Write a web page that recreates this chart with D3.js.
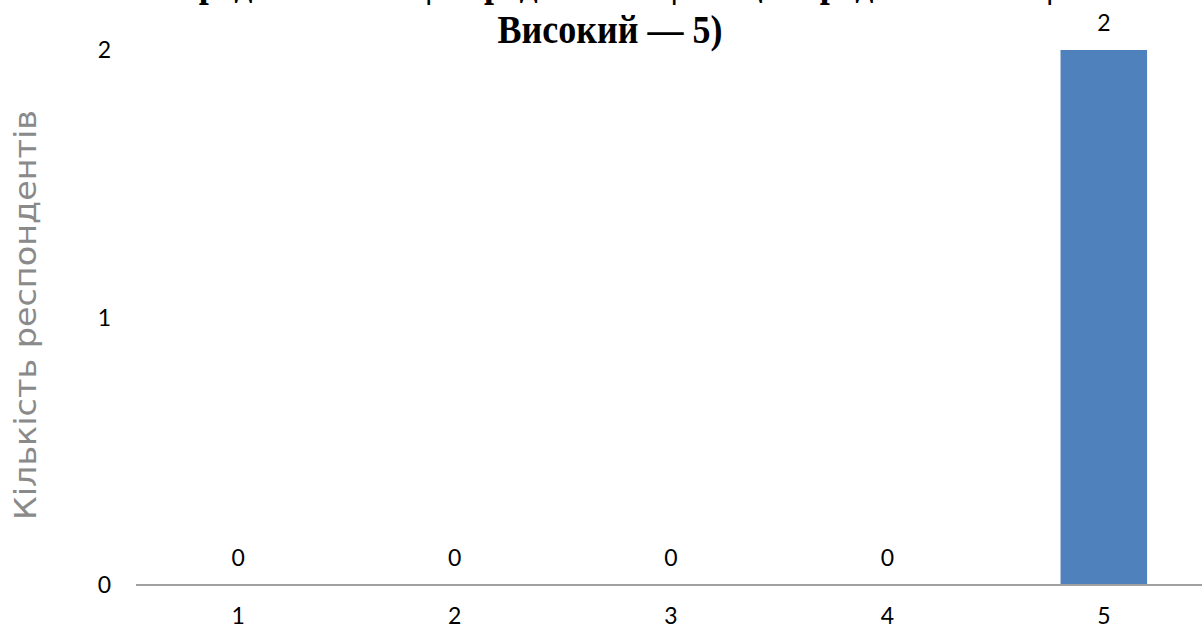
<!DOCTYPE html>
<html>
<head>
<meta charset="utf-8">
<script src="https://cdn.jsdelivr.net/npm/d3@7"></script>
<style>
  html, body { margin: 0; padding: 0; background: #fff; }
  svg { display: block; }
</style>
</head>
<body>
<svg id="chart" width="1202" height="628"></svg>
<script>
const categories = ["1", "2", "3", "4", "5"];
const values = [0, 0, 0, 0, 2];
const yTicks = [0, 1, 2];
const titleLines = [
  "середнього — 2 | Середній — 3 | Вище середнього — 4 |",
  "Високий — 5)"
];
const yTitle = "Кількість респондентів";

const svg = d3.select("#chart");
const W = 1202, H = 628;

const x = d3.scaleBand()
  .domain(categories)
  .range([130, 1212])
  .paddingInner(0.6)
  .paddingOuter(0.3);

const y = d3.scaleLinear()
  .domain([0, 2])
  .range([585, 50]);

// Bars
svg.append("g").selectAll("rect")
  .data(values)
  .join("rect")
  .attr("x", (d, i) => x(categories[i]))
  .attr("width", x.bandwidth())
  .attr("y", d => y(d))
  .attr("height", d => y(0) - y(d))
  .attr("fill", "#4f81bd");

// X axis line
svg.append("line")
  .attr("x1", 136).attr("x2", W)
  .attr("y1", y(0)).attr("y2", y(0))
  .attr("stroke", "#a0a0a0")
  .attr("stroke-width", 2);

const numFont = "Lato, 'Open Sans', sans-serif";
const numSize = 23;

// X tick labels
svg.append("g").selectAll("text")
  .data(categories)
  .join("text")
  .attr("x", d => x(d) + x.bandwidth() / 2)
  .attr("y", 624)
  .attr("text-anchor", "middle")
  .attr("font-family", numFont)
  .attr("font-size", numSize)
  .attr("fill", "#000")
  .text(d => d);

// Y tick labels
svg.append("g").selectAll("text")
  .data(yTicks)
  .join("text")
  .attr("x", 111)
  .attr("y", d => y(d))
  .attr("dy", "0.36em")
  .attr("text-anchor", "end")
  .attr("font-family", numFont)
  .attr("font-size", numSize)
  .attr("fill", "#000")
  .text(d => d);

// Data labels
svg.append("g").selectAll("text")
  .data(values)
  .join("text")
  .attr("x", (d, i) => x(categories[i]) + x.bandwidth() / 2)
  .attr("y", d => y(d) - 19)
  .attr("text-anchor", "middle")
  .attr("font-family", numFont)
  .attr("font-size", numSize)
  .attr("fill", "#000")
  .text(d => d);

// Y axis title
svg.append("text")
  .attr("transform", "translate(36,315) rotate(-90)")
  .attr("text-anchor", "middle")
  .attr("font-family", "'DejaVu Sans', sans-serif")
  .attr("font-size", 30)
  .attr("fill", "#8a8a8a")
  .attr("textLength", 410)
  .attr("lengthAdjust", "spacingAndGlyphs")
  .text(yTitle);

// Title (first line clipped at top, as in the reference)
const t = svg.append("text")
  .attr("transform", "translate(610,0) scale(0.9,1)")
  .attr("text-anchor", "middle")
  .attr("font-family", "'Liberation Serif', 'Times New Roman', serif")
  .attr("font-weight", "bold")
  .attr("font-size", 40)
  .attr("fill", "#000");
t.selectAll("tspan")
  .data(titleLines)
  .join("tspan")
  .attr("x", 0)
  .attr("y", (d, i) => i === 0 ? -4 : 43)
  .text(d => d);
</script>
</body>
</html>
